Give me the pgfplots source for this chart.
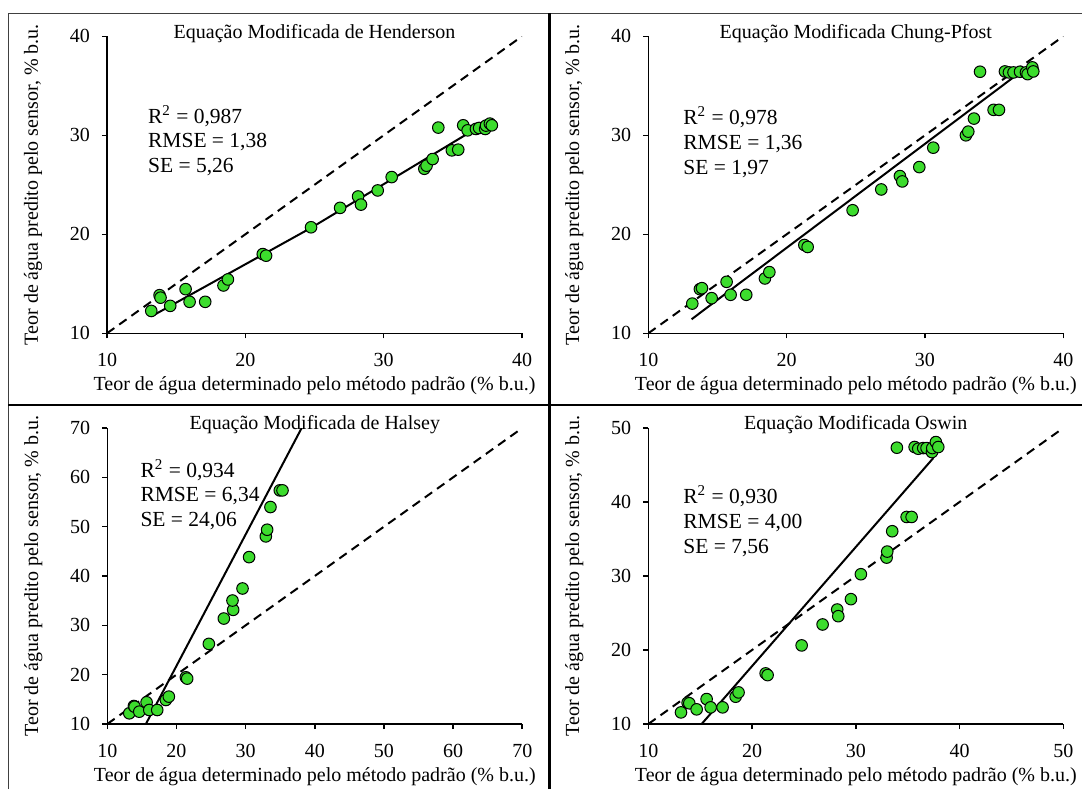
\documentclass[border=0pt]{standalone}
\usepackage{fontspec}
\setmainfont{Liberation Serif}
\usepackage{pgfplots}
\usepackage{pgfplotstable}
\pgfplotsset{compat=1.18}
\definecolor{ptgreen}{RGB}{60,220,45}

\pgfplotstableread{
x y
13.20 12.26
13.80 13.85
13.87 13.60
14.57 12.77
15.68 14.46
15.97 13.18
17.10 13.18
18.42 14.83
18.74 15.44
21.26 18.00
21.50 17.84
24.75 20.71
26.85 22.67
28.15 23.82
28.36 23.00
29.57 24.43
30.58 25.78
32.94 26.62
33.10 26.93
33.54 27.60
33.95 30.78
34.93 28.48
35.39 28.55
35.75 31.01
36.07 30.50
36.67 30.64
36.90 30.74
37.34 30.64
37.40 30.98
37.68 31.18
37.82 31.01
}\henderson

\pgfplotstableread{
x y
13.18 13.00
13.73 14.46
13.88 14.56
14.58 13.55
15.66 15.20
15.95 13.89
17.08 13.89
18.43 15.54
18.75 16.18
21.28 18.92
21.52 18.72
24.77 22.43
26.84 24.53
28.19 25.88
28.36 25.34
29.59 26.79
30.60 28.75
32.96 30.00
33.13 30.37
33.54 31.69
33.98 36.42
34.96 32.57
35.35 32.57
35.78 36.45
36.07 36.35
36.40 36.35
36.87 36.42
37.30 36.35
37.42 36.18
37.76 36.86
37.83 36.45
}\chung

\pgfplotstableread{
x y
13.18 12.17
13.85 13.65
13.95 13.50
14.62 12.50
15.68 14.40
16.07 12.84
17.22 12.84
18.47 14.87
18.90 15.55
21.36 19.47
21.55 19.20
24.68 26.24
26.85 31.38
28.20 33.14
28.10 35.03
29.55 37.47
30.50 43.83
32.92 48.03
33.11 49.38
33.59 53.98
34.94 57.36
35.33 57.36
}\halsey

\pgfplotstableread{
x y
13.15 11.57
13.79 12.88
13.95 12.80
14.66 11.98
15.62 13.37
16.01 12.25
17.16 12.25
18.42 13.69
18.70 14.27
21.31 16.84
21.50 16.61
24.78 20.62
26.80 23.45
28.21 25.47
28.31 24.57
29.53 26.87
30.49 30.24
32.97 32.49
33.03 33.30
33.51 36.05
33.96 47.34
34.90 37.98
35.38 37.98
35.67 47.43
36.02 47.20
36.50 47.29
36.82 47.29
37.34 46.75
37.37 47.29
37.72 48.10
37.95 47.43
}\oswin

\pgfplotsset{
  panel/.style={
    scale only axis, width=207.5pt,
    axis lines=left, axis line style={-, line width=0.8pt},
    tick align=outside, major tick length=2.5pt,
    every tick/.style={black, line width=0.8pt},
    tick label style={font=\fontsize{10}{12}\selectfont},
    xticklabel style={yshift=-4pt},
    yticklabel style={xshift=-2.5pt},
    /pgf/number format/assume math mode=true,
    label style={font=\fontsize{10}{12}\selectfont},
    every axis title shift=0pt,
    title style={font=\fontsize{10}{12}\selectfont, at={(axis description cs:0.5,1.01)}, anchor=center, yshift=0pt},
    xlabel style={at={(axis description cs:0.5,-0.178)}, anchor=center},
    ylabel style={at={(axis description cs:-0.178,0.5)}, anchor=center},
    xlabel={Teor de água determinado pelo método padrão (\% b.u.)},
    ylabel={Teor de água predito pelo sensor, \% b.u.},
  },
  pts/.style={only marks, mark=*, mark size=2.9pt, mark options={fill=ptgreen, draw=black, line width=0.5pt}},
  oneone/.style={black, line width=1pt, dash pattern=on 4.5pt off 3pt},
  fit/.style={black, line width=1pt},
}
\tikzset{ann/.style={anchor=base west, font=\fontsize{10.75}{12.4}\selectfont}}

\begin{document}
\begin{tikzpicture}
\path[use as bounding box] (0pt,0pt) rectangle (541pt,394.5pt);
% frame
\draw[line width=0.75pt, black!75] (4.15pt,0pt) -- (4.15pt,387.85pt) -- (541pt,387.85pt);
\draw[line width=1.3pt] (274.75pt,0pt) -- (274.75pt,387.85pt);
\draw[line width=1.3pt] (4.15pt,192pt) -- (541pt,192pt);

% Panel 1
\begin{axis}[panel, height=148.5pt, at={(53.5pt,227.85pt)}, anchor=south west,
  xmin=10, xmax=40, ymin=10, ymax=40, xtick={10,20,30,40}, ytick={10,20,30,40},
  title={Equação Modificada de Henderson}]
\addplot[oneone] coordinates {(10,10) (40,40)};
\addplot[fit] coordinates {(13.2,11.7) (24.75,20.65) (36.55,30.57)};
\addplot[pts] table[x=x,y=y] {\henderson};
\node[ann] at (rel axis cs:0.082,0.707) {R\textsuperscript{2} = 0,987};
\node[ann] at (rel axis cs:0.082,0.627) {RMSE = 1,38};
\node[ann] at (rel axis cs:0.082,0.543) {SE = 5,26};
\end{axis}

% Panel 2
\begin{axis}[panel, height=148.5pt, at={(324.15pt,227.85pt)}, anchor=south west,
  xmin=10, xmax=40, ymin=10, ymax=40, xtick={10,20,30,40}, ytick={10,20,30,40},
  title={Equação Modificada Chung-Pfost}]
\addplot[oneone] coordinates {(10,10) (40,40)};
\addplot[fit] coordinates {(13.13,11.42) (37.2,36.7)};
\addplot[pts] table[x=x,y=y] {\chung};
\node[ann] at (rel axis cs:0.0675,0.704) {R\textsuperscript{2} = 0,978};
\node[ann] at (rel axis cs:0.0675,0.620) {RMSE = 1,36};
\node[ann] at (rel axis cs:0.0675,0.536) {SE = 1,97};
\end{axis}

% Panel 3
\begin{axis}[panel, height=148pt, at={(53.65pt,32.5pt)}, anchor=south west,
  xmin=10, xmax=70, ymin=10, ymax=70, xtick={10,20,...,70}, ytick={10,20,...,70},
  title={Equação Modificada de Halsey}]
\addplot[oneone] coordinates {(10,10) (70,70)};
\addplot[fit] coordinates {(15.58,10) (38.1,70)};
\addplot[pts] table[x=x,y=y] {\halsey};
\node[ann] at (rel axis cs:0.063,0.833) {R\textsuperscript{2} = 0,934};
\node[ann] at (rel axis cs:0.063,0.751) {RMSE = 6,34};
\node[ann] at (rel axis cs:0.063,0.666) {SE = 24,06};
\end{axis}

% Panel 4
\begin{axis}[panel, height=148pt, at={(324.15pt,32.5pt)}, anchor=south west,
  xmin=10, xmax=50, ymin=10, ymax=50, xtick={10,20,...,50}, ytick={10,20,...,50},
  title={Equação Modificada Oswin}]
\addplot[oneone] coordinates {(10,10) (50,50)};
\addplot[fit] coordinates {(15.14,10) (37.47,45.94)};
\addplot[pts] table[x=x,y=y] {\oswin};
\node[ann] at (rel axis cs:0.0675,0.744) {R\textsuperscript{2} = 0,930};
\node[ann] at (rel axis cs:0.0675,0.660) {RMSE = 4,00};
\node[ann] at (rel axis cs:0.0675,0.575) {SE = 7,56};
\end{axis}
\end{tikzpicture}
\end{document}
